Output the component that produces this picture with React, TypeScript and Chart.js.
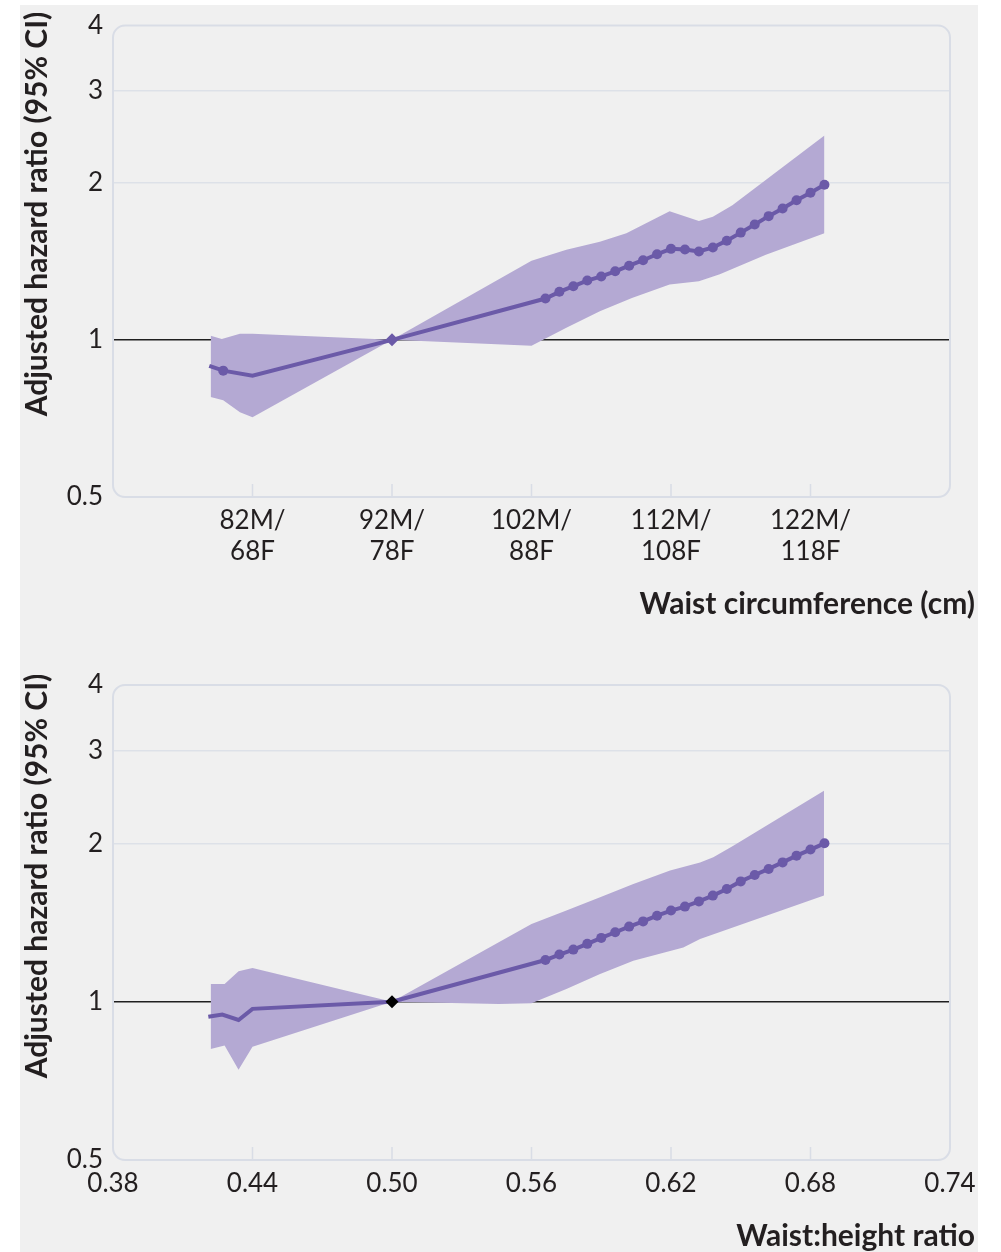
import { useEffect, useRef } from "react";
import { Chart, registerables } from "chart.js";

Chart.register(...registerables);

// ---------- shared axis ----------
const hrTicks = [0.5, 1, 2, 3, 4];
const yTitle = "Adjusted hazard ratio (95% CI)";

// ---------- top panel: waist circumference ----------
const waistTitle = "Waist circumference (cm)";
const waistTickValues = [82, 92, 102, 112, 122];
const waistTickMen = ["82M/", "92M/", "102M/", "112M/", "122M/"];
const waistTickWomen = ["68F", "78F", "88F", "108F", "118F"];
const waistMin = 72;
const waistMax = 132;

const waistLineX = [78.9, 79.9, 82, 92, 103, 104, 105, 106, 107, 108, 109, 110, 111, 112, 113, 114, 115, 116, 117, 118, 119, 120, 121, 122, 123];
const waistLineHR = [0.892, 0.873, 0.854, 1.0, 1.2, 1.236, 1.267, 1.299, 1.323, 1.353, 1.387, 1.421, 1.459, 1.494, 1.49, 1.477, 1.503, 1.549, 1.605, 1.664, 1.726, 1.785, 1.852, 1.914, 1.983];
const waistDotX = [79.9, 103, 104, 105, 106, 107, 108, 109, 110, 111, 112, 113, 114, 115, 116, 117, 118, 119, 120, 121, 122, 123];
const waistRefX = 92;
const waistRefHR = 1.0;

const waistUpperX = [79.0, 79.8, 81.1, 82, 92, 102, 104.5, 106.9, 108.8, 111.9, 114.0, 115.0, 116.4, 123];
const waistUpperHR = [1.018, 1.004, 1.027, 1.027, 1.0, 1.418, 1.488, 1.542, 1.6, 1.764, 1.689, 1.721, 1.811, 2.464];
const waistLowerX = [79.0, 79.9, 81.1, 82, 92, 102, 104.5, 106.9, 109.2, 111.9, 114.0, 115.5, 118.8, 123];
const waistLowerHR = [0.777, 0.766, 0.727, 0.711, 1.0, 0.974, 1.055, 1.135, 1.203, 1.276, 1.295, 1.335, 1.455, 1.6];

// ---------- bottom panel: waist:height ratio ----------
const whrTitle = "Waist:height ratio";
const whrTickValues = [0.38, 0.44, 0.5, 0.56, 0.62, 0.68, 0.74];
const whrTickLabels = ["0.38", "0.44", "0.50", "0.56", "0.62", "0.68", "0.74"];
const whrMin = 0.38;
const whrMax = 0.74;

const whrLineX = [0.421, 0.427, 0.434, 0.44, 0.5, 0.566, 0.572, 0.578, 0.584, 0.59, 0.596, 0.602, 0.608, 0.614, 0.62, 0.626, 0.632, 0.638, 0.644, 0.65, 0.656, 0.662, 0.668, 0.674, 0.68, 0.686];
const whrLineHR = [0.936, 0.945, 0.923, 0.969, 1.0, 1.2, 1.229, 1.256, 1.288, 1.322, 1.355, 1.389, 1.421, 1.457, 1.49, 1.516, 1.551, 1.591, 1.638, 1.693, 1.741, 1.788, 1.84, 1.895, 1.946, 2.0];
const whrDotX = [0.566, 0.572, 0.578, 0.584, 0.59, 0.596, 0.602, 0.608, 0.614, 0.62, 0.626, 0.632, 0.638, 0.644, 0.65, 0.656, 0.662, 0.668, 0.674, 0.68, 0.686];
const whrRefX = 0.5;
const whrRefHR = 1.0;

const whrUpperX = [0.422, 0.428, 0.434, 0.44, 0.5, 0.56, 0.575, 0.5895, 0.6038, 0.6196, 0.6325, 0.6382, 0.6468, 0.6858];
const whrUpperHR = [1.081, 1.081, 1.142, 1.159, 1.0, 1.405, 1.49, 1.579, 1.674, 1.775, 1.84, 1.881, 1.98, 2.519];
const whrLowerX = [0.422, 0.428, 0.434, 0.44, 0.5, 0.546, 0.56, 0.575, 0.5895, 0.6038, 0.6253, 0.6325, 0.6858];
const whrLowerHR = [0.813, 0.825, 0.742, 0.821, 1.0, 0.99, 0.993, 1.057, 1.129, 1.196, 1.268, 1.316, 1.591];

// ---------- styling ----------
const FONT = 'Lato, "Open Sans", "DejaVu Sans", sans-serif';
const TEXT = "#231f20";
const LINE = "#6b5aa8";
const BAND = "#b4a9d3";
const FRAME = "#d9dde6";

const pts = (xs: number[], ys: number[]) => xs.map((x, i) => ({ x, y: ys[i] }));

type PanelCfg = {
  top: number;
  xAxisHeight: number;
  xMin: number;
  xMax: number;
  xTicks: number[];
  xLabel: (i: number) => string | string[];
  lineX: number[];
  lineHR: number[];
  dotX: number[];
  refX: number;
  refHR: number;
  refColor: string;
  upperX: number[];
  upperHR: number[];
  lowerX: number[];
  lowerHR: number[];
  xTitle: string;
  xTitleY: number;
  yTitleY: number;
  tickPadX: number;
};

function makeChart(canvas: HTMLCanvasElement, p: PanelCfg) {
  const line = pts(p.lineX, p.lineHR);
  const dots = line.filter((pt) => p.dotX.includes(pt.x));

  const decor = {
    id: "decor",
    beforeDatasetsDraw(chart: any) {
      const { ctx, chartArea: a, scales } = chart;
      ctx.save();
      ctx.strokeStyle = FRAME;
      ctx.lineWidth = 1.5;
      for (const t of scales.x.ticks) {
        const px = scales.x.getPixelForValue(t.value);
        if (px <= a.left + 2 || px >= a.right - 2) continue;
        ctx.beginPath();
        ctx.moveTo(px, a.bottom - 13);
        ctx.lineTo(px, a.bottom);
        ctx.stroke();
      }
      ctx.lineWidth = 2;
      ctx.beginPath();
      (ctx as any).roundRect(a.left, a.top, a.right - a.left, a.bottom - a.top, 12);
      ctx.stroke();
      ctx.restore();
    },
    afterDraw(chart: any) {
      const { ctx } = chart;
      ctx.save();
      ctx.fillStyle = TEXT;
      ctx.font = `bold 30px ${FONT}`;
      ctx.textAlign = "right";
      ctx.textBaseline = "middle";
      ctx.fillText(p.xTitle, 975, p.xTitleY);
      ctx.translate(37, p.yTitleY);
      ctx.rotate(-Math.PI / 2);
      ctx.textAlign = "center";
      ctx.fillText(yTitle, 0, 0);
      ctx.restore();
    },
  };

  return new Chart(canvas, {
    type: "line",
    data: {
      datasets: [
        {
          data: [{ x: p.refX, y: p.refHR }],
          showLine: false,
          pointStyle: "rectRot",
          pointRadius: 6.5,
          pointBackgroundColor: p.refColor,
          pointBorderColor: p.refColor,
          pointBorderWidth: 0,
        },
        {
          data: dots,
          showLine: false,
          pointRadius: 5,
          pointBackgroundColor: LINE,
          pointBorderWidth: 0,
        },
        {
          data: line,
          borderColor: LINE,
          borderWidth: 4,
          pointRadius: 0,
          tension: 0,
          fill: false,
        },
        {
          data: pts(p.upperX, p.upperHR),
          borderWidth: 0,
          borderColor: "rgba(0,0,0,0)",
          pointRadius: 0,
          backgroundColor: BAND,
          fill: "+1",
        },
        {
          data: pts(p.lowerX, p.lowerHR),
          borderWidth: 0,
          borderColor: "rgba(0,0,0,0)",
          pointRadius: 0,
          fill: false,
        },
      ],
    },
    options: {
      animation: false,
      responsive: false,
      events: [],
      layout: { padding: { left: 0, top: p.top, right: 51, bottom: 0 } },
      plugins: { legend: { display: false }, tooltip: { enabled: false } },
      scales: {
        x: {
          type: "linear",
          min: p.xMin,
          max: p.xMax,
          afterBuildTicks: (s: any) => {
            s.ticks = p.xTicks.map((v) => ({ value: v }));
          },
          afterFit: (s: any) => {
            s.height = p.xAxisHeight;
          },
          grid: { display: false, drawTicks: false },
          border: { display: false },
          ticks: {
            autoSkip: false,
            maxRotation: 0,
            padding: p.tickPadX,
            color: TEXT,
            font: { family: FONT, size: 26 },
            callback: (_v: any, i: number) => p.xLabel(i),
          },
        },
        y: {
          type: "logarithmic",
          min: 0.5,
          max: 4,
          afterBuildTicks: (s: any) => {
            s.ticks = hrTicks.map((v) => ({ value: v }));
          },
          afterFit: (s: any) => {
            s.width = 113;
          },
          border: { display: false },
          grid: {
            drawTicks: false,
            lineWidth: 1.5,
            color: (c: any) =>
              c.tick && c.tick.value === 1
                ? "#1f1f1f"
                : c.tick && (c.tick.value === 2 || c.tick.value === 3)
                ? "#dde1e8"
                : "rgba(0,0,0,0)",
          },
          ticks: {
            padding: 10,
            color: TEXT,
            font: { family: FONT, size: 26 },
            callback: (v: any) => String(v),
          },
        },
      },
    },
    plugins: [decor],
  } as any);
}

export default function App() {
  const topRef = useRef<HTMLCanvasElement>(null);
  const botRef = useRef<HTMLCanvasElement>(null);

  useEffect(() => {
    const c1 = makeChart(topRef.current!, {
      top: 22,
      xAxisHeight: 133,
      xMin: waistMin,
      xMax: waistMax,
      xTicks: waistTickValues,
      xLabel: (i) => [waistTickMen[i], waistTickWomen[i]],
      lineX: waistLineX,
      lineHR: waistLineHR,
      dotX: waistDotX,
      refX: waistRefX,
      refHR: waistRefHR,
      refColor: LINE,
      upperX: waistUpperX,
      upperHR: waistUpperHR,
      lowerX: waistLowerX,
      lowerHR: waistLowerHR,
      xTitle: waistTitle,
      xTitleY: 604,
      yTitleY: 214,
      tickPadX: 8,
    });
    const c2 = makeChart(botRef.current!, {
      top: 55,
      xAxisHeight: 92,
      xMin: whrMin,
      xMax: whrMax,
      xTicks: whrTickValues,
      xLabel: (i) => whrTickLabels[i],
      lineX: whrLineX,
      lineHR: whrLineHR,
      dotX: whrDotX,
      refX: whrRefX,
      refHR: whrRefHR,
      refColor: "#000000",
      upperX: whrUpperX,
      upperHR: whrUpperHR,
      lowerX: whrLowerX,
      lowerHR: whrLowerHR,
      xTitle: whrTitle,
      xTitleY: 606,
      yTitleY: 246,
      tickPadX: 8,
    });
    return () => {
      c1.destroy();
      c2.destroy();
    };
  }, []);

  return (
    <div style={{ position: "absolute", left: 0, top: 0, width: 1001, height: 1252, background: "#ffffff" }}>
      <div style={{ position: "absolute", left: 20, top: 5, width: 958, height: 1247, background: "#f0f0f0" }} />
      <canvas ref={topRef} width={1001} height={630} style={{ position: "absolute", left: 0, top: 0, width: 1001, height: 630 }} />
      <canvas ref={botRef} width={1001} height={622} style={{ position: "absolute", left: 0, top: 630, width: 1001, height: 622 }} />
    </div>
  );
}
